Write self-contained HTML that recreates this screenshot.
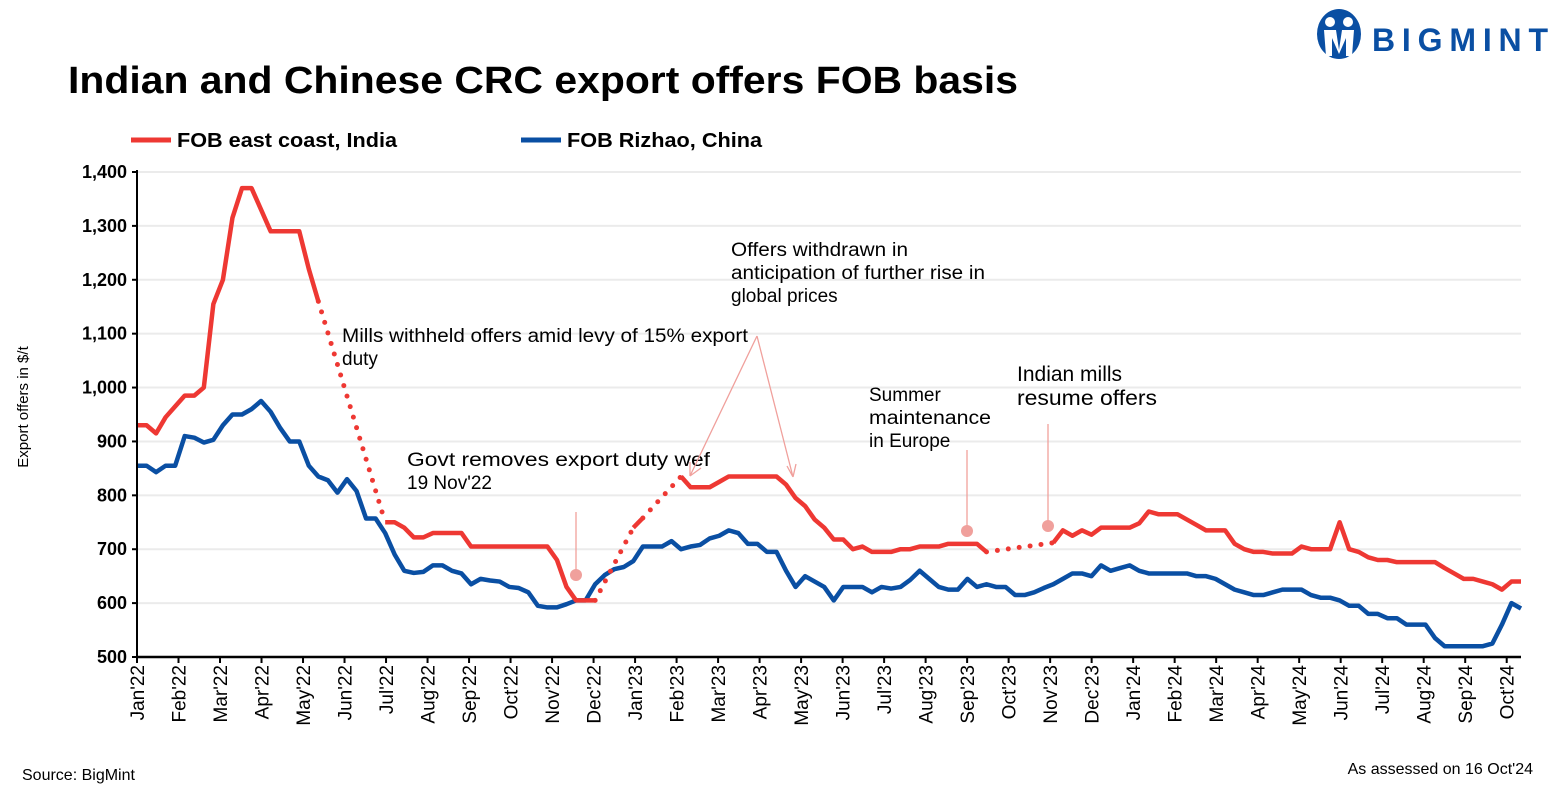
<!DOCTYPE html>
<html><head><meta charset="utf-8"><style>
body{margin:0;background:#fff;width:1564px;height:795px;overflow:hidden;font-family:"Liberation Sans",sans-serif}
svg text{font-family:"Liberation Sans",sans-serif}
</style></head><body>
<svg id="c" width="1564" height="795" xmlns="http://www.w3.org/2000/svg">
<text x="68" y="93" font-size="38" font-weight="bold" fill="#000" textLength="950" lengthAdjust="spacingAndGlyphs">Indian and Chinese CRC export offers FOB basis</text>
<g>
<ellipse cx="1339" cy="34" rx="22" ry="25" fill="#0a4fa3"/>
<circle cx="1330" cy="22" r="5" fill="#fff"/><circle cx="1348" cy="22" r="5" fill="#fff"/>
<path d="M1324 30 L1336 30 L1339 50 L1342 30 L1354 30 L1352 56 L1346 56 L1346 38 L1339 54 L1332 38 L1332 56 L1326 56Z" fill="#fff"/>
<text x="1372" y="51" font-size="32" font-weight="bold" fill="#0a4fa3" textLength="176" lengthAdjust="spacing">BIGMINT</text>
</g>
<g>
<line x1="131" y1="140" x2="171" y2="140" stroke="#ee3833" stroke-width="5"/>
<text x="177" y="147" font-size="20" font-weight="bold" textLength="220" lengthAdjust="spacingAndGlyphs">FOB east coast, India</text>
<line x1="521" y1="140" x2="561" y2="140" stroke="#0a4fa3" stroke-width="5"/>
<text x="567" y="147" font-size="20" font-weight="bold" textLength="195" lengthAdjust="spacingAndGlyphs">FOB Rizhao, China</text>
</g>
<text transform="translate(28,407) rotate(-90)" text-anchor="middle" font-size="15">Export offers in $/t</text>
<g id="grid"></g><g id="series"></g><g id="axes"></g>
<g font-size="19" fill="#000">
<text x="342" y="342" textLength="406" lengthAdjust="spacingAndGlyphs">Mills withheld offers amid levy of 15% export</text>
<text x="342" y="365">duty</text>
<text x="407" y="466" textLength="303" lengthAdjust="spacingAndGlyphs">Govt removes export duty wef</text>
<text x="407" y="489">19 Nov'22</text>
<text x="731" y="256" textLength="177" lengthAdjust="spacingAndGlyphs">Offers withdrawn in</text>
<text x="731" y="279" textLength="254" lengthAdjust="spacingAndGlyphs">anticipation of further rise in</text>
<text x="731" y="302">global prices</text>
<text x="869" y="401">Summer</text>
<text x="869" y="424" textLength="122" lengthAdjust="spacingAndGlyphs">maintenance</text>
<text x="869" y="447">in Europe</text>
<text x="1017" y="381" font-size="21">Indian mills</text>
<text x="1017" y="405" font-size="21" textLength="140" lengthAdjust="spacingAndGlyphs">resume offers</text>
<g stroke="#f0a09c" stroke-width="1.3" fill="none">
<line x1="576" y1="512" x2="576" y2="572"/><line x1="967" y1="450" x2="967" y2="528"/><line x1="1048" y1="424" x2="1048" y2="523"/>
<path d="M757 336 L690 476 M690 476 L690 462 M690 476 L701 468"/>
<path d="M757 336 L793 477 M793 477 L787 466 M793 477 L796 464"/>
</g>
<g fill="#f0a09c"><circle cx="576" cy="575" r="6"/><circle cx="967" cy="531" r="6"/><circle cx="1048" cy="526" r="6"/></g>
</g>
<text x="22" y="780" font-size="16">Source: BigMint</text>
<text x="1533" y="774" font-size="16" text-anchor="end">As assessed on 16 Oct'24</text>
</svg>
<script>
const yTicks=[500,600,700,800,900,1000,1100,1200,1300,1400];
const yTickLabels=["500","600","700","800","900","1,000","1,100","1,200","1,300","1,400"];
const monthLabels=["Jan'22","Feb'22","Mar'22","Apr'22","May'22","Jun'22","Jul'22","Aug'22","Sep'22","Oct'22","Nov'22","Dec'22","Jan'23","Feb'23","Mar'23","Apr'23","May'23","Jun'23","Jul'23","Aug'23","Sep'23","Oct'23","Nov'23","Dec'23","Jan'24","Feb'24","Mar'24","Apr'24","May'24","Jun'24","Jul'24","Aug'24","Sep'24","Oct'24"];
const indiaValues=[930,930,915,945,965,985,985,1000,1155,1200,1315,1370,1370,1330,1290,1290,1290,1290,1220,1160,null,null,null,null,null,null,750,750,740,722,722,730,730,730,730,705,705,705,705,705,705,705,705,705,680,630,605,605,605,null,null,null,740,758,null,null,null,835,815,815,815,825,835,835,835,835,835,835,820,795,780,755,740,718,718,700,705,695,695,695,700,700,705,705,705,710,710,710,710,695,null,null,null,null,null,null,712,735,725,735,727,740,740,740,740,748,770,765,765,765,755,745,735,735,735,710,700,695,695,692,692,692,705,700,700,700,750,700,695,685,680,680,676,676,676,676,676,665,655,645,645,640,635,625,640,640];
const chinaValues=[855,855,843,855,855,910,907,898,903,930,950,950,960,975,955,925,900,900,855,835,828,805,830,808,757,757,730,690,660,656,658,670,670,660,655,635,645,642,640,630,628,620,595,592,592,598,605,605,635,652,663,667,678,705,705,705,715,700,705,708,720,725,735,730,710,710,695,695,660,630,650,640,630,605,630,630,630,620,630,627,630,643,660,645,630,625,625,645,630,635,630,630,615,615,620,628,635,645,655,655,650,670,660,665,670,660,655,655,655,655,655,650,650,645,635,625,620,615,615,620,625,625,625,615,610,610,605,595,595,580,580,572,572,560,560,560,535,520,520,520,520,520,525,560,600,590];
const X0=137,X1=1521,Y0=657,Y1=172;
const nW=indiaValues.length;
const xW=i=>X0+(X1-X0)*i/(nW-1);
const monthX=m=>X0+(X1-X0)*(m*30.44)/((nW-1)*7);
const y=v=>Y0-(v-500)/900*(Y0-Y1);
const NS="http://www.w3.org/2000/svg";
function mk(t,a,p){const e=document.createElementNS(NS,t);for(const k in a)e.setAttribute(k,a[k]);p.appendChild(e);return e;}
const grid=document.getElementById('grid'),axes=document.getElementById('axes'),ser=document.getElementById('series');
yTicks.forEach((v,i)=>{
 if(v>500){const g=mk('line',{x1:X0,x2:X1,y1:y(v),y2:y(v),stroke:'#ebebeb','stroke-width':2},grid);
 
 }
 const t=mk('text',{x:X0-10,y:y(v)+6,'text-anchor':'end','font-size':18,'font-weight':'bold'},axes);t.textContent=yTickLabels[i];
 
 
 mk('line',{x1:X0-5,x2:X0,y1:y(v),y2:y(v),stroke:'#000','stroke-width':2},axes);
});
const ax=mk('line',{x1:X0,x2:X0,y1:Y1-2,y2:Y0,stroke:'#000','stroke-width':2},axes);


const bx=mk('line',{x1:X0,x2:X1,y1:Y0,y2:Y0,stroke:'#000','stroke-width':2.5},axes);


monthLabels.forEach((l,m)=>{const x=monthX(m);
 mk('line',{x1:x,x2:x,y1:Y0,y2:Y0+6,stroke:'#000','stroke-width':2},axes);
 const t=mk('text',{transform:`translate(${x+7},${Y0+8}) rotate(-90)`,'text-anchor':'end','font-size':19},axes);t.textContent=l;
 
 
});
function draw(vals,color,name){
 let segs=[],cur=[];
 vals.forEach((v,i)=>{if(v==null){if(cur.length)segs.push(cur);cur=[];}else cur.push([xW(i),y(v)]);});
 if(cur.length)segs.push(cur);
 segs.forEach((s,k)=>{
  if(k>0){const p=segs[k-1][segs[k-1].length-1],q=s[0];
   const d=mk('line',{x1:p[0],y1:p[1],x2:q[0],y2:q[1],stroke:color,'stroke-width':5,'stroke-dasharray':'0 11','stroke-linecap':'round'},ser);
   
   }
  const pl=mk('polyline',{points:s.map(p=>p.join(',')).join(' '),fill:'none',stroke:color,'stroke-width':4.5,'stroke-linejoin':'round'},ser);
  
  
 });
}
draw(chinaValues,'#0a4fa3','china-series');
draw(indiaValues,'#ee3833','india-series');
</script>
</body></html>
